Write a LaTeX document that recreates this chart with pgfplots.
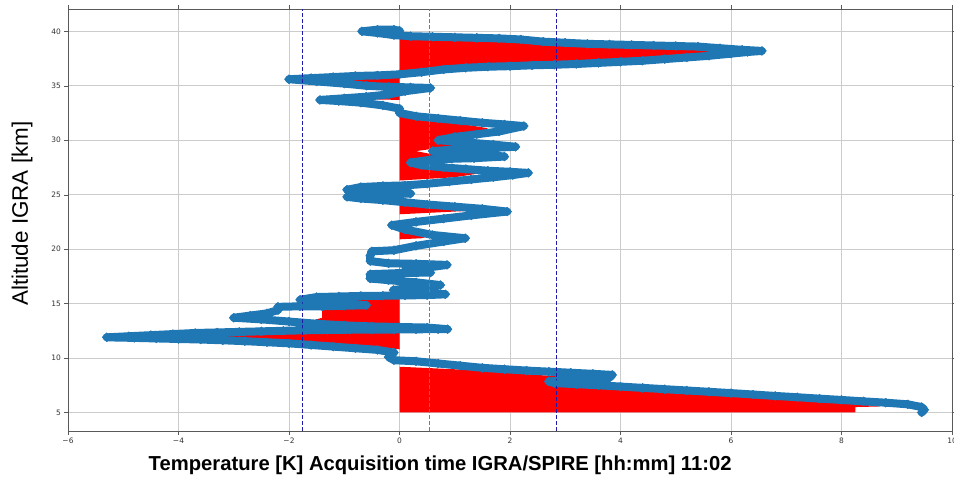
\documentclass[border=0pt]{standalone}
\usepackage{pgfplots}
\pgfplotsset{compat=1.18}
\usepackage{fontspec}
\setmainfont{Liberation Sans}
\newfontfamily\tickfont{DejaVu Sans}
\usetikzlibrary{calc}
\definecolor{mblue}{HTML}{1F77B4}
\definecolor{vblue}{HTML}{1C1CA8}
\definecolor{vgreen}{HTML}{3AA53A}

\begin{document}
\begin{tikzpicture}
\begin{axis}[
  scale only axis, width=884bp, height=422bp,
  xmin=-6, xmax=10, ymin=3.3, ymax=42.05,
  xtick={-6,-4,...,10}, xticklabels={−6,−4,−2,0,2,4,6,8,10},
  ytick={5,10,...,40}, yticklabels={5,10,15,20,25,30,35,40},
  ticklabel style={font=\tickfont\fontsize{7.5}{9}\selectfont, text=black!80},
  grid=major, major grid style={draw=black!20, line width=0.8bp},
  axis line style={draw=black!65, line width=0.8bp},
  tick align=outside, major tick length=3.5bp, tick style={draw=black!65},
  xlabel={\bfseries Temperature [K] Acquisition time IGRA/SPIRE [hh:mm] 11:02},
  xlabel style={font=\fontsize{20.3}{24}\selectfont, at={(axis description cs:0.421,0)}, anchor=center, yshift=-34bp},
  ylabel={Altitude IGRA [km]},
  ylabel style={font=\fontsize{22.5}{27}\selectfont, at={(axis description cs:-0.052,0.515)}, anchor=center},
]
% red area between x=0 and the profile
\addplot[fill=red, draw=none] coordinates {(0,5) (8.25,5) (8.25,5.5) (8.7,5.55) (8.25,5.8) (5.0,6.8) (2.7,7.75) (2.9,8.3) (1.3,8.9) (0,9.2)};
\addplot[fill=red, draw=none] coordinates {(0,10.8) (-0.5,11.1) (-1.9,11.5) (-3.85,11.9) (-3.85,12.3) (-1.0,12.5) (0,12.5)};
\addplot[fill=red, draw=none] coordinates {(0,12.9) (-1.0,13.0) (-1.6,13.4) (-1.4,13.7) (-1.4,15.3) (-0.5,15.5) (0,15.5)};
\addplot[fill=red, draw=none] coordinates {(0,20.9) (0.4,21.0) (0.6,21.3) (0,21.6)};
\addplot[fill=red, draw=none] coordinates {(0,23.2) (1.2,23.5) (0.8,24.0) (0,24.3)};
\addplot[fill=red, draw=none] coordinates {(0,26.3) (1.0,26.6) (1.5,27.0) (0.8,27.5) (0.3,28.0) (0.8,28.5) (0.3,29.0) (1.0,29.5) (1.6,31.1) (1.0,31.6) (0.3,32.3) (0,32.5)};
\addplot[fill=red, draw=none] coordinates {(0,33.7) (-0.95,33.8) (-0.7,34.2) (0,34.2)};
\addplot[fill=red, draw=none] coordinates {(0,35.2) (-0.8,35.3) (-1.0,35.8) (0,35.8)};
\addplot[fill=red, draw=none] coordinates {(0,36.2) (1.0,36.6) (3.0,37.0) (5.0,37.6) (6.3,38.25) (5.0,38.6) (3.3,38.9) (2.5,39.1) (1.0,39.45) (0,39.5)};
% profile
\addplot[mblue, line width=8bp, line join=round, line cap=round, mark=square*, mark size=3.2bp, mark options={rotate=45, fill=mblue, draw=mblue, line width=0.4bp}] coordinates {
(9.45,5.0) (9.5,5.25) (9.45,5.5) (9.2,5.75) (8.8,5.9) (8.4,6.02) (8.0,6.15) (7.6,6.27) (7.2,6.4) (6.8,6.52) (6.4,6.65) (6.0,6.78) (5.6,6.9) (5.2,7.02) (4.8,7.14) (4.4,7.26) (4.0,7.38) (3.6,7.5) (3.2,7.6) (2.8,7.7) (2.7,7.85) (3.0,8.0) (3.4,8.05) (3.8,8.2) (3.85,8.45)
(3.5,8.55) (3.1,8.65) (2.7,8.75) (2.3,8.85) (1.9,8.97) (1.5,9.1) (1.1,9.3) (0.7,9.5) (0.3,9.7) (-0.1,9.8) (-0.2,10.1) (-0.1,10.5)
(-0.4,10.75) (-0.8,10.9) (-1.2,11.05) (-1.6,11.2) (-2.0,11.35) (-2.4,11.45) (-2.8,11.55) (-3.2,11.63) (-3.6,11.7) (-4.0,11.75) (-4.4,11.8) (-4.8,11.85) (-5.3,11.9)
(-4.9,12.0) (-4.5,12.1) (-4.1,12.2) (-3.7,12.3) (-3.3,12.35) (-2.9,12.4) (-2.5,12.45) (-2.1,12.5) (-1.7,12.55) (-1.3,12.58) (-0.9,12.6) (-0.5,12.6) (-0.1,12.62) (0.3,12.64) (0.7,12.65) (0.87,12.65)
(0.5,12.8) (0.0,12.85) (-0.5,12.9) (-1.0,13.0) (-1.5,13.15) (-2.0,13.35) (-2.5,13.55) (-3.0,13.7) (-2.7,13.9) (-2.4,14.1) (-2.2,14.4) (-2.2,14.7) (-1.8,14.75) (-1.4,14.75) (-1.0,14.8) (-0.6,14.85) (-1.0,15.0) (-1.4,15.15) (-1.8,15.35)
(-1.5,15.6) (-1.1,15.65) (-0.7,15.7) (-0.3,15.72) (0.1,15.75) (0.5,15.78) (0.83,15.85) (0.4,16.05) (-0.11,16.25) (0.3,16.5) (0.74,16.7) (0.3,16.95) (-0.2,17.15) (-0.53,17.3) (-0.53,17.7) (0.0,17.8) (0.56,17.85) (0.1,18.05)
(0.5,18.3) (0.86,18.55) (0.3,18.65) (-0.2,18.7) (-0.53,18.9) (-0.53,19.4) (-0.5,19.8) (-0.1,19.9) (0.3,20.3) (0.8,20.7) (1.19,21.0) (0.6,21.3) (0.1,21.8) (-0.14,22.2) (0.3,22.5) (0.8,22.8) (1.3,23.1) (1.95,23.45)
(1.5,23.7) (1.0,23.9) (0.5,24.1) (0.1,24.3) (-0.3,24.5) (-0.7,24.65) (-0.95,24.8) (-0.6,25.0) (-0.2,25.05) (0.2,25.1) (-0.3,25.3) (-0.95,25.45) (-0.7,25.7) (-0.3,25.8) (0.1,25.85)
(0.5,26.0) (0.9,26.2) (1.3,26.4) (1.7,26.6) (2.05,26.8) (2.33,27.0) (2.0,27.1) (1.6,27.2) (1.2,27.35) (0.8,27.5) (0.4,27.7) (0.2,27.95) (0.55,28.2) (0.95,28.3) (1.35,28.35) (1.9,28.5)
(1.5,28.7) (1.0,28.85) (0.6,29.0) (1.0,29.15) (1.5,29.25) (2.1,29.4) (1.7,29.6) (1.2,29.8) (0.7,30.0) (1.0,30.3) (1.4,30.55) (1.8,30.8) (2.25,31.3) (1.9,31.45) (1.5,31.6) (1.1,31.8) (0.7,32.0) (0.3,32.2) (0.0,32.5) (0.0,32.9)
(-0.3,33.2) (-0.7,33.45) (-1.1,33.6) (-1.44,33.7) (-1.0,33.85) (-0.6,34.0) (-0.2,34.2) (0.1,34.5) (0.56,34.8) (0.2,34.85) (-0.2,34.9) (-0.6,35.0) (-1.0,35.2) (-1.5,35.4) (-2.0,35.6)
(-1.6,35.7) (-1.2,35.8) (-0.8,35.9) (-0.4,35.95) (0.0,36.05) (0.4,36.25) (0.8,36.5) (1.2,36.65) (1.6,36.75) (2.0,36.8) (2.4,36.88) (2.8,36.93) (3.2,37.0) (3.6,37.1) (4.0,37.2) (4.4,37.3) (4.8,37.45) (5.2,37.6) (5.6,37.75) (6.0,37.95) (6.3,38.1) (6.56,38.2)
(6.2,38.3) (5.8,38.45) (5.4,38.6) (5.0,38.65) (4.6,38.7) (4.2,38.75) (3.8,38.8) (3.4,38.85) (3.0,38.95) (2.6,39.05) (2.2,39.25) (1.8,39.35) (1.4,39.4) (1.0,39.45) (0.6,39.5) (0.2,39.55) (-0.1,39.65) (-0.4,39.85) (-0.68,40.0) (-0.4,40.15) (-0.1,40.15) (0.0,40.05)
};
% reference lines
\addplot[vblue, line width=1.1bp, dash pattern=on 4bp off 2bp] coordinates {(-1.75,3.3) (-1.75,42.05)};
\addplot[vgreen, line width=1.3bp, dash pattern=on 4bp off 2bp] coordinates {(0.54,3.3) (0.54,42.05)};
\addplot[vblue, line width=1.1bp, dash pattern=on 4bp off 2bp] coordinates {(2.84,3.3) (2.84,42.05)};
\coordinate (bl) at (rel axis cs:0,0);
\coordinate (tr) at (rel axis cs:1,1);
\end{axis}
\pgfresetboundingbox
\path ($(bl)+(-68bp,-56bp)$) rectangle ($(tr)+(2bp,9bp)$);
\end{tikzpicture}
\end{document}
